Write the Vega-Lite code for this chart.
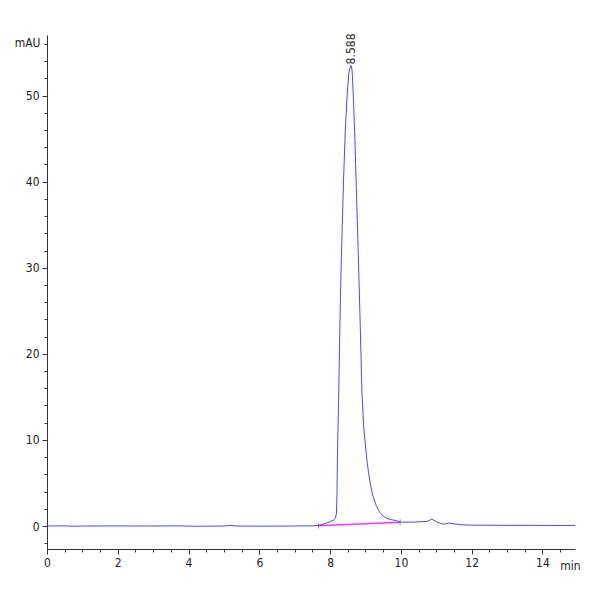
{
  "$schema": "https://vega.github.io/schema/vega-lite/v6.json",
  "width": 528,
  "height": 514,
  "autosize": "none",
  "padding": {"left": 47, "top": 35, "right": 25, "bottom": 51},
  "background": "white",
  "config": {
    "view": {"stroke": null},
    "font": "'DejaVu Sans Condensed', 'Liberation Sans', sans-serif",
    "axis": {
      "domainColor": "#333333",
      "tickColor": "#333333",
      "labelColor": "#222222",
      "titleColor": "#222222",
      "labelFont": "'DejaVu Sans Condensed', 'Liberation Sans', sans-serif",
      "titleFont": "'DejaVu Sans Condensed', 'Liberation Sans', sans-serif",
      "labelFontSize": 12,
      "titleFontSize": 12,
      "titleFontWeight": "normal",
      "grid": false
    }
  },
  "datasets": {
    "trace": [
      {"t": 0, "v": 0.0}, {"t": 0.5, "v": 0.02}, {"t": 0.8, "v": -0.03}, {"t": 1.0, "v": 0.0},
      {"t": 2.0, "v": 0.01}, {"t": 3.0, "v": 0.0}, {"t": 3.7, "v": 0.02}, {"t": 4.2, "v": -0.03},
      {"t": 5.0, "v": 0.0}, {"t": 5.2, "v": 0.08}, {"t": 5.3, "v": 0.0}, {"t": 6.0, "v": -0.02},
      {"t": 7.0, "v": 0.0}, {"t": 7.5, "v": 0.02}, {"t": 7.7, "v": 0.1}, {"t": 7.8, "v": 0.2},
      {"t": 7.9, "v": 0.35}, {"t": 8.0, "v": 0.5}, {"t": 8.1, "v": 0.7}, {"t": 8.15, "v": 0.9},
      {"t": 8.18, "v": 1.5}, {"t": 8.195, "v": 4}, {"t": 8.21, "v": 8.8}, {"t": 8.24, "v": 14.6},
      {"t": 8.29, "v": 26.3}, {"t": 8.33, "v": 33}, {"t": 8.38, "v": 40.2}, {"t": 8.43, "v": 46},
      {"t": 8.48, "v": 50}, {"t": 8.53, "v": 52.7}, {"t": 8.588, "v": 53.5}, {"t": 8.62, "v": 53},
      {"t": 8.65, "v": 50.5}, {"t": 8.7, "v": 45}, {"t": 8.75, "v": 38}, {"t": 8.8, "v": 31},
      {"t": 8.85, "v": 23.5}, {"t": 8.9, "v": 15.5}, {"t": 8.95, "v": 11.5}, {"t": 9.0, "v": 9.3},
      {"t": 9.05, "v": 7.3}, {"t": 9.1, "v": 5.8}, {"t": 9.15, "v": 4.6}, {"t": 9.2, "v": 3.6},
      {"t": 9.3, "v": 2.4}, {"t": 9.4, "v": 1.6}, {"t": 9.5, "v": 1.15}, {"t": 9.6, "v": 0.9},
      {"t": 9.7, "v": 0.76}, {"t": 9.8, "v": 0.68}, {"t": 9.9, "v": 0.58}, {"t": 10.0, "v": 0.45},
      {"t": 10.3, "v": 0.45}, {"t": 10.6, "v": 0.5}, {"t": 10.75, "v": 0.55}, {"t": 10.88, "v": 0.8},
      {"t": 11.0, "v": 0.5}, {"t": 11.2, "v": 0.2}, {"t": 11.35, "v": 0.35}, {"t": 11.5, "v": 0.25},
      {"t": 11.7, "v": 0.15}, {"t": 12.0, "v": 0.1}, {"t": 13.0, "v": 0.08}, {"t": 14.0, "v": 0.07},
      {"t": 14.92, "v": 0.06}
    ],
    "base": [{"t": 7.67, "v": 0.03}, {"t": 9.98, "v": 0.43}],
    "peak": [{"t": 8.588, "v": 53.5, "label": "8.588"}]
  },
  "encoding": {
    "x": {
      "field": "t",
      "type": "quantitative",
      "scale": {"domain": [0, 14.92], "nice": false, "zero": false},
      "axis": {
        "values": [0, 0.5, 1, 1.5, 2, 2.5, 3, 3.5, 4, 4.5, 5, 5.5, 6, 6.5, 7, 7.5, 8, 8.5, 9, 9.5, 10, 10.5, 11, 11.5, 12, 12.5, 13, 13.5, 14, 14.5],
        "format": "~g",
        "labelExpr": "datum.value % 2 === 0 ? datum.label : ''",
        "tickSize": {"condition": {"test": "datum.value % 2 === 0", "value": 5}, "value": 3},
        "labelPadding": 3,
        "labelFlush": false,
        "title": "min",
        "titleAngle": 0,
        "titleX": 523,
        "titleY": 16,
        "titleAlign": "center",
        "titleBaseline": "middle"
      }
    },
    "y": {
      "field": "v",
      "type": "quantitative",
      "scale": {"domain": [-2.67, 57.03], "nice": false, "zero": false},
      "axis": {
        "values": [-2, 0, 2, 4, 6, 8, 10, 12, 14, 16, 18, 20, 22, 24, 26, 28, 30, 32, 34, 36, 38, 40, 42, 44, 46, 48, 50, 52, 54, 56],
        "format": "~g",
        "labelExpr": "datum.value % 10 === 0 ? datum.label : ''",
        "tickSize": {"condition": {"test": "datum.value % 10 === 0", "value": 5}, "value": 3},
        "labelPadding": 3,
        "labelFlush": false,
        "title": "mAU",
        "titleAngle": 0,
        "titleX": -7,
        "titleY": 7,
        "titleAlign": "right",
        "titleBaseline": "middle"
      }
    }
  },
  "layer": [
    {
      "data": {"name": "base"},
      "mark": {"type": "line", "color": "#ff33ff", "strokeWidth": 1.5},
      "encoding": {}
    },
    {
      "data": {"name": "base"},
      "mark": {"type": "tick", "orient": "vertical", "color": "#666666", "size": 6, "thickness": 1},
      "encoding": {}
    },
    {
      "data": {"name": "trace"},
      "mark": {"type": "line", "color": "#4a4aff", "strokeWidth": 1},
      "encoding": {}
    },
    {
      "data": {"name": "peak"},
      "mark": {"type": "text", "angle": 270, "align": "left", "baseline": "middle", "fontSize": 12, "color": "#333333", "dx": 1},
      "encoding": {"text": {"field": "label"}}
    }
  ]
}
